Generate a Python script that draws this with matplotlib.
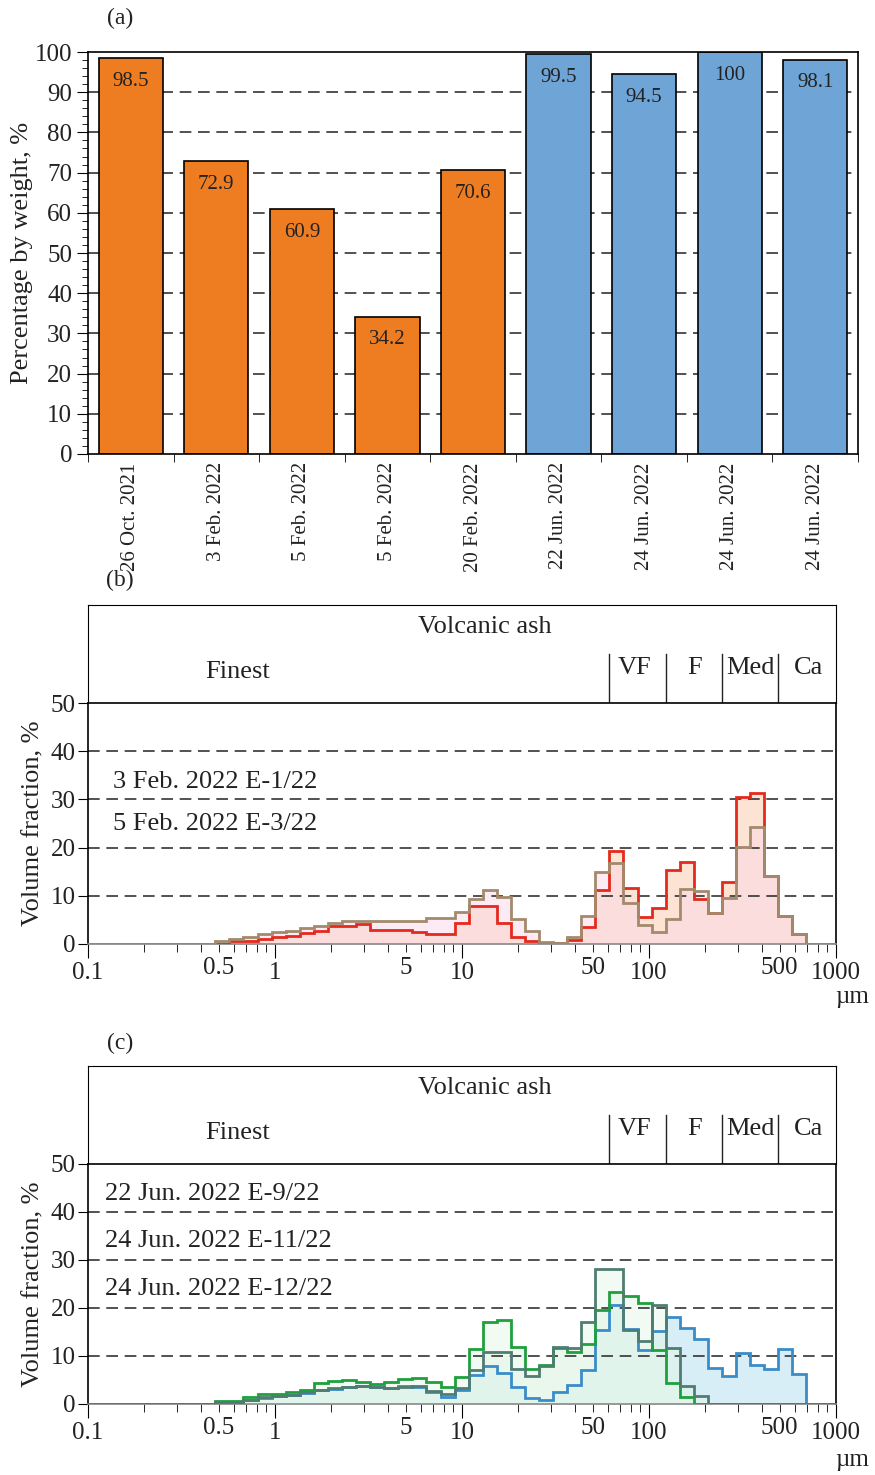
import numpy as np
import matplotlib
matplotlib.use('Agg')
import matplotlib.pyplot as plt
from matplotlib.ticker import FixedLocator, FuncFormatter, MultipleLocator

plt.rcParams['font.family'] = ['Liberation Serif', 'DejaVu Serif']

# ---- panel (a): ash share by weight ----
bar_dates = ['26 Oct. 2021', '3 Feb. 2022', '5 Feb. 2022', '5 Feb. 2022', '20 Feb. 2022',
             '22 Jun. 2022', '24 Jun. 2022', '24 Jun. 2022', '24 Jun. 2022']
bar_values = [98.5, 72.9, 60.9, 34.2, 70.6, 99.5, 94.5, 100, 98.1]
bar_colors = ['#ee7d22'] * 5 + ['#6fa4d6'] * 4

# ---- panels (b), (c): size distributions, quarter-phi bins ----
# values listed for bins k = -20 ... 21 (edge_k = 15.35 um * 2**(k/4))
feb_e1 = [0.0, 0.55, 0.55, 1.0, 1.4, 1.6, 2.2, 2.8, 3.7, 3.7, 4.1, 2.9, 2.9, 2.9, 2.5, 2.0,
          2.0, 4.3, 7.9, 7.9, 4.3, 1.4, 0.6, 0.15, 0.15, 0.8, 3.6, 11.2, 19.3, 11.7, 5.7, 7.4,
          15.4, 17.1, 9.3, 6.5, 12.8, 30.6, 31.3, 14.1, 5.8, 2.0]
feb_e3 = [0.6, 1.0, 1.5, 2.0, 2.5, 2.8, 3.3, 3.8, 4.3, 4.8, 4.8, 4.8, 4.8, 4.8, 4.8, 5.3,
          5.3, 6.6, 9.3, 11.3, 9.8, 5.2, 2.6, 0.4, 0.3, 1.5, 5.9, 15.0, 16.9, 8.6, 3.9, 2.4,
          5.2, 11.4, 11.0, 6.5, 9.6, 20.1, 24.3, 14.1, 5.8, 2.0]
jun_e9 = [0.4, 0.5, 0.8, 1.3, 1.6, 1.9, 2.3, 2.9, 3.2, 3.5, 3.8, 3.6, 3.4, 3.7, 3.5, 2.6,
          1.5, 2.9, 6.0, 8.0, 6.5, 3.5, 1.3, 0.9, 2.5, 3.9, 7.1, 15.4, 20.6, 15.6, 11.3, 15.3,
          18.2, 15.8, 13.5, 7.4, 5.8, 10.6, 8.1, 7.3, 11.5, 6.3]
jun_e11 = [0.7, 0.7, 1.5, 2.0, 2.0, 2.6, 2.9, 4.3, 4.8, 5.1, 4.5, 4.1, 4.5, 5.3, 5.5, 4.5,
           3.6, 5.6, 11.5, 17.0, 17.5, 11.9, 7.2, 8.1, 11.6, 10.9, 12.6, 19.6, 23.4, 22.5, 21.1, 11.3,
           4.3, 1.5, 0, 0, 0, 0, 0, 0, 0, 0]
jun_e12 = [0.5, 0.5, 0.8, 1.5, 1.7, 1.9, 2.4, 3.0, 3.3, 3.6, 3.8, 3.5, 3.3, 3.6, 3.7, 2.7,
           2.1, 3.3, 7.1, 10.9, 10.9, 7.3, 5.8, 7.9, 11.9, 11.6, 17.0, 28.1, 28.1, 15.4, 13.2, 20.6,
           11.7, 3.8, 1.6, 0, 0, 0, 0, 0, 0, 0]

labels_b = ['3 Feb. 2022 E-1/22', '5 Feb. 2022 E-3/22']
labels_c = ['22 Jun. 2022 E-9/22', '24 Jun. 2022 E-11/22', '24 Jun. 2022 E-12/22']
class_names = ['VF', 'F', 'Med', 'Ca']

k = np.arange(-30, 27)
edges = 15.35 * 2.0 ** (k / 4)
class_bounds = [15.35 * 4, 15.35 * 8, 15.35 * 16, 15.35 * 32]


def pad(vals):
    vals = np.asarray(vals, dtype=float)
    return np.concatenate([np.zeros(10), vals, np.zeros(len(edges) - 1 - 10 - len(vals))])


fig = plt.figure(figsize=(8.75, 14.75), dpi=100)
W, H = 875.0, 1475.0

def box(l, t, r, b):
    return [l / W, 1 - b / H, (r - l) / W, (b - t) / H]

# ---------------- (a) ----------------
ax = fig.add_axes(box(88, 52, 858, 454))
x = np.arange(len(bar_values))
for y in range(10, 100, 10):
    ax.axhline(y, color='#333', lw=1.2, dashes=(7, 4), zorder=0)
ax.bar(x, bar_values, width=0.75, color=bar_colors, edgecolor='black', lw=1.2, zorder=2)
for xi, v in zip(x, bar_values):
    ax.text(xi, v - 5.8, f'{v:g}', ha='center', va='center', fontsize=15, color='#222', zorder=3)
ax.set_xlim(-0.5, 8.5)
ax.set_ylim(0, 100)
ax.set_xticks(x)
ax.set_xticklabels(bar_dates, rotation=90, fontsize=15, color='#222')
ax.xaxis.set_minor_locator(FixedLocator(np.arange(-0.5, 9, 1)))
ax.tick_params(axis='x', which='major', length=0, pad=6)
ax.tick_params(axis='x', which='minor', length=6, direction='out')
ax.set_yticks(range(0, 101, 10))
ax.yaxis.set_minor_locator(MultipleLocator(2))
ax.tick_params(axis='y', which='major', labelsize=18, length=8, direction='out', labelcolor='#222')
ax.tick_params(axis='y', which='minor', length=4, direction='out')
ax.set_ylabel('Percentage by weight, %', fontsize=19, color='#222')
ax.yaxis.set_label_coords(-0.072, 0.5)
for s in ax.spines.values():
    s.set_linewidth(1.2)
fig.text(120 / W, 1 - 18 / H, '(a)', fontsize=17, ha='center', va='center', color='#222')


def size_panel(top_px, bot_px, series, labels, label_y, label_x):
    head = fig.add_axes(box(88, top_px - 98, 836, top_px))
    head.set_xscale('log')
    head.set_xlim(0.1, 1000)
    head.set_ylim(0, 1)
    head.set_xticks([])
    head.set_yticks([])
    head.minorticks_off()
    for b in class_bounds:
        head.plot([b, b], [0, 0.5], color='#222', lw=1.0)
    head.text(0.531, 0.776, 'Volcanic ash', transform=head.transAxes, ha='center', va='center',
              fontsize=19, color='#222')
    head.text(0.2, 0.316, 'Finest', transform=head.transAxes, ha='center', va='center',
              fontsize=19, color='#222')
    for name, xc in zip(class_names, [0.731, 0.811, 0.885, 0.963]):
        head.text(xc, 0.36, name, transform=head.transAxes, ha='center', va='center',
                  fontsize=19, color='#222')

    ax = fig.add_axes(box(88, top_px, 836, bot_px))
    ax.set_xscale('log')
    for vals, lc, fc in series:
        ax.stairs(pad(vals), edges, fill=True, color=fc, alpha=0.5, lw=0, zorder=1)
    for y in (10, 20, 30, 40):
        ax.axhline(y, color='#333', lw=1.2, dashes=(7, 4), zorder=2)
    for vals, lc, fc in series:
        ax.stairs(pad(vals), edges, color=lc, lw=2.0, zorder=3)
    ax.set_xlim(0.1, 1000)
    ax.set_ylim(0, 50)
    ax.xaxis.set_major_locator(FixedLocator([0.1, 1, 10, 100, 1000]))
    ax.xaxis.set_major_formatter(FuncFormatter(lambda v, p: f'{v:g}'))
    minors = [m * d for d in (0.1, 1, 10, 100) for m in range(2, 10)]
    ax.xaxis.set_minor_locator(FixedLocator(minors))
    ax.xaxis.set_minor_formatter(FuncFormatter(
        lambda v, p: f'{v:g}' if np.isclose(v / 10 ** np.floor(np.log10(v) + 1e-9), 5) else ''))
    ax.tick_params(axis='x', which='both', labelsize=18, direction='out', labelcolor='#222', pad=3)
    ax.tick_params(axis='x', which='major', length=10)
    ax.tick_params(axis='x', which='minor', length=6)
    ax.set_yticks(range(0, 51, 10))
    ax.tick_params(axis='y', labelsize=18, length=7, direction='out', labelcolor='#222', pad=2)
    ax.set_ylabel('Volume fraction, %', fontsize=19, color='#222')
    ax.yaxis.set_label_coords(-0.058, 0.5)
    for s in ax.spines.values():
        s.set_linewidth(1.2)
    ax.spines['bottom'].set_color('#888')
    for lab, yy in zip(labels, label_y):
        ax.text(label_x, yy, lab, transform=ax.get_yaxis_transform(), ha='left', va='center',
                fontsize=19, color='#222')
    return ax


size_panel(703, 944,
           [(feb_e1, '#e32a1c', '#fbc9a8'), (feb_e3, '#a38a6c', '#fbd8ea')],
           labels_b, [33.6, 24.9], 0.033)
fig.text(120 / W, 1 - 580 / H, '(b)', fontsize=17, ha='center', va='center', color='#222')
fig.text(852 / W, 1 - 997 / H, 'µm', fontsize=18, ha='center', va='center', color='#222')

size_panel(1164, 1404,
           [(jun_e9, '#3a8cc8', '#b0def0'), (jun_e11, '#1ea03c', '#e4f6e8'),
            (jun_e12, '#4f7d72', '#e4f6e8')],
           labels_c, [43.75, 34.0, 24.0], 0.023)
fig.text(120 / W, 1 - 1043 / H, '(c)', fontsize=17, ha='center', va='center', color='#222')
fig.text(852 / W, 1 - 1460 / H, 'µm', fontsize=18, ha='center', va='center', color='#222')

fig.savefig('out.png', dpi=100)
